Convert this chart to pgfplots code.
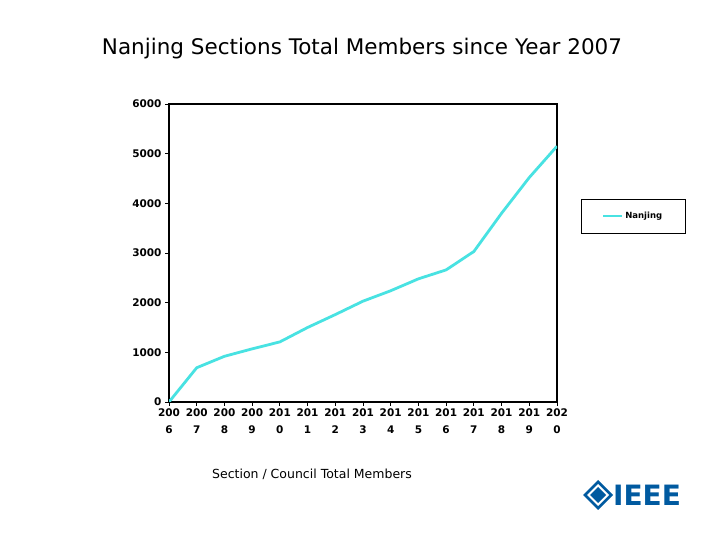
\documentclass[border=0pt]{standalone}
\usepackage{fontspec}
\setmainfont{DejaVu Sans}
\usepackage{pgfplots}
\pgfplotsset{compat=1.18}
\definecolor{lineCyan}{RGB}{72,226,226}
\definecolor{ieeeBlue}{RGB}{0,90,160}
\begin{document}
\begin{tikzpicture}
\useasboundingbox (0,0) rectangle (720bp,540bp);
\fill[white] (0,0) rectangle (720bp,540bp);
\node[font=\fontsize{21.5bp}{24bp}\selectfont] at (362bp,491bp) {Nanjing Sections Total Members since Year 2007};
\begin{axis}[
  at={(169bp,138bp)}, anchor=south west,
  scale only axis, width=388bp, height=298bp,
  xmin=2006, xmax=2020, ymin=0, ymax=6000,
  xtick={2006,...,2020},
  xticklabels={{200\\6},{200\\7},{200\\8},{200\\9},{201\\0},{201\\1},{201\\2},{201\\3},{201\\4},{201\\5},{201\\6},{201\\7},{201\\8},{201\\9},{202\\0}},
  ytick={0,1000,...,6000},
  scaled y ticks=false,
  /pgf/number format/assume math mode=true,
  yticklabel style={/pgf/number format/1000 sep={}, font=\fontsize{10.5bp}{11bp}\selectfont\bfseries},
  xticklabel style={align=center, font=\fontsize{10.5bp}{17bp}\selectfont\bfseries, yshift=1bp},
  tick align=outside, major tick length=4bp,
  xtick pos=bottom, ytick pos=left,
  axis line style={line width=1.2pt},
  tick style={black, line width=0.8pt},
  legend style={at={(1.062,0.681)}, anchor=north west, draw=black, line width=0.6pt, font=\fontsize{8.5bp}{10bp}\selectfont\bfseries, inner xsep=21bp, inner ysep=11bp, legend cell align=left},
  legend image code/.code={\draw[#1, line width=2pt] (0bp,0bp) -- (19bp,0bp);},
]
\addplot[lineCyan, line width=2.8pt] coordinates {
(2006,0) (2007,690) (2008,920) (2009,1070) (2010,1210) (2011,1500) (2012,1760) (2013,2030) (2014,2240) (2015,2480) (2016,2660) (2017,3030) (2018,3800) (2019,4520) (2020,5150)};
\addlegendentry{Nanjing}
\end{axis}
\node[font=\fontsize{12.5bp}{14bp}\selectfont] at (312bp,66bp) {Section / Council Total Members};
% IEEE logo
\fill[ieeeBlue] (598bp,30bp) -- (613bp,45bp) -- (598bp,60bp) -- (583bp,45bp) -- cycle;
\fill[white] (598bp,34bp) -- (609bp,45bp) -- (598bp,56bp) -- (587bp,45bp) -- cycle;
\fill[ieeeBlue] (598bp,37bp) -- (606bp,45bp) -- (598bp,53bp) -- (590bp,45bp) -- cycle;
\node[font=\fontsize{28bp}{30bp}\selectfont\bfseries, text=ieeeBlue, anchor=west, inner sep=0pt] at (613bp,45bp) {IEEE};
\end{tikzpicture}
\end{document}
